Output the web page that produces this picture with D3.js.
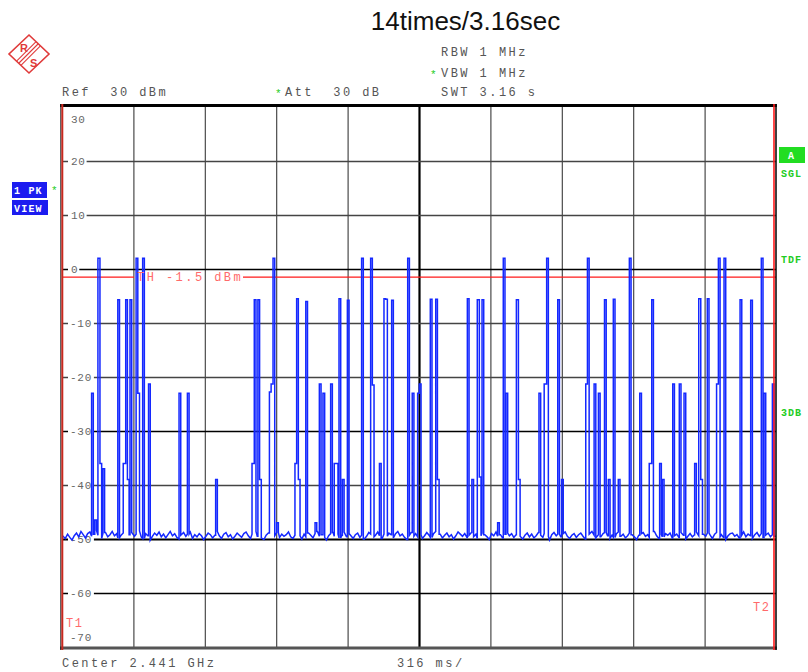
<!DOCTYPE html>
<html>
<head>
<meta charset="utf-8">
<script src="https://cdn.jsdelivr.net/npm/d3@7/dist/d3.min.js"></script>
<style>
  html, body { margin: 0; padding: 0; background: #fff; }
  svg { display: block; }
  .mono { font-family: "Liberation Mono", "DejaVu Sans Mono", monospace; white-space: pre; }
</style>
</head>
<body>
<svg id="chart" width="808" height="672"></svg>
<script>
// ---------------- DATA ----------------
const title = "14times/3.16sec";
const sweepMs = 3160;               // total sweep time (SWT 3.16 s)
const divisionMs = 316;             // 316 ms/div
const yDomain = [-70, 30];          // dBm
const yGridValues = [20, 10, 0, -10, -20, -30, -40, -50, -60];
const yLabelValues = [30, 20, 10, 0, -10, -20, -30, -40, -50, -60, -70];
const thresholdDbm = -1.5;

// Burst times (ms from sweep start) and peak levels (dBm)
const burstTimesMs = [
  131, 145, 159, 168, 181, 247, 271, 282, 289, 301,
  328, 335, 357, 383, 518, 555, 680, 841, 851, 867,
  874, 918, 924, 934, 950, 1031, 1036, 1046, 1079, 1120,
  1139, 1155, 1189, 1205, 1214, 1226, 1241, 1263, 1326, 1366,
  1372, 1405, 1425, 1432, 1459, 1530, 1550, 1574, 1580, 1630,
  1654, 1660, 1794, 1814, 1838, 1847, 1859, 1928, 1953, 1965,
  2011, 2020, 2111, 2134, 2145, 2194, 2211, 2318, 2322, 2355,
  2374, 2401, 2418, 2440, 2462, 2511, 2557, 2599, 2610, 2645,
  2657, 2703, 2732, 2753, 2800, 2818, 2827, 2856, 2897, 2905,
  2930, 3001, 3048, 3095, 3107, 3144
];
const burstLevelsDbm = [
  -23, -46.5, 2, -36, -37, -5.7, -36, -5.7, -39, -5.7,
  2, -23, 2, -21.3, -23, -23, -39, -36, -5.7, -5.7,
  -39, -22.8, -21.3, 2, -47, -36, -5.5, -39, -6, -47,
  -21.3, -23, -21.3, -36, -36, -5.5, -39, -5.8, 2, 2,
  -21.5, -36, -5.5, -5.6, -5.8, 2, -23, -23, -21.3, -5.6,
  -5.6, -39, -5.5, -39, -5.7, -38.5, -5.7, -47, 2, -23,
  -5.7, -39, -23, -21.3, 2, -5.7, -39, -21.3, 2, -21.3,
  -23, -5.7, -39, -5.6, -39, 2, -23, -36, -5.7, -36,
  -39, -21.3, -21.3, -23, -36, -5.5, -39, -5.5, -21.3, 2,
  2, -5.7, -5.8, 2, -23, -21.3
];

// Noise floor (dBm), 320 consecutive bins across the sweep
const floorLevelsDbm = [
  -49.3,-49.9,-49.1,-49.7,-50.2,-49.4,-48.9,-49.6,-48.6,-49.2,
  -49.8,-49.0,-48.7,-49.5,-49.1,-48.4,-49.3,-49.9,-49.0,-48.8,
  -49.6,-49.2,-48.6,-49.4,-49.0,-49.8,-49.3,-48.9,-49.7,-50.1,
  -49.2,-48.8,-49.5,-49.1,-48.5,-49.6,-49.9,-49.0,-49.4,-50.2,
  -49.5,-48.9,-49.3,-48.7,-49.6,-49.1,-49.8,-49.2,-48.6,-49.4,
  -49.0,-49.7,-50.0,-49.3,-48.8,-49.5,-49.1,-48.7,-49.9,-49.2,
  -49.6,-49.0,-49.4,-50.1,-49.5,-48.9,-49.2,-49.8,-49.3,-48.6,
  -49.4,-49.9,-49.1,-48.8,-49.6,-49.2,-50.0,-49.5,-48.9,-49.3,
  -49.7,-49.0,-48.7,-49.4,-49.9,-49.1,-48.6,-49.5,-49.2,-49.8,
  -50.1,-49.3,-48.9,-49.6,-49.0,-49.4,-48.8,-49.7,-49.1,-49.5,
  -49.2,-48.7,-49.6,-49.9,-49.3,-48.8,-49.4,-50.0,-49.1,-49.6,
  -48.9,-49.3,-49.8,-49.0,-48.6,-49.5,-49.2,-49.7,-50.2,-49.4,
  -49.0,-48.8,-49.5,-49.1,-49.8,-49.3,-48.7,-49.6,-49.0,-49.4,
  -49.9,-49.2,-48.9,-49.7,-49.3,-50.0,-49.5,-48.8,-49.1,-49.6,
  -49.3,-48.7,-49.4,-49.9,-49.1,-49.5,-48.9,-49.2,-49.8,-49.0,
  -48.6,-49.4,-49.1,-49.7,-50.1,-49.3,-48.8,-49.5,-49.0,-49.6,
  -49.2,-49.9,-49.4,-48.8,-49.3,-49.7,-49.0,-48.6,-49.5,-49.1,
  -49.8,-49.3,-48.9,-49.6,-49.2,-50.0,-49.4,-48.7,-49.1,-49.5,
  -49.0,-49.7,-49.3,-48.8,-49.6,-49.1,-49.9,-49.4,-48.9,-49.2,
  -49.6,-50.1,-49.0,-49.4,-48.7,-49.5,-49.2,-49.8,-49.1,-48.9,
  -49.4,-49.0,-49.7,-49.2,-48.6,-49.5,-50.0,-49.3,-48.9,-49.6,
  -49.1,-49.8,-49.4,-48.8,-49.3,-49.7,-49.0,-49.5,-50.2,-49.2,
  -48.8,-49.4,-49.1,-49.6,-49.0,-48.7,-49.5,-49.9,-49.3,-49.0,
  -49.7,-49.2,-48.9,-49.5,-50.0,-49.4,-49.1,-48.6,-49.3,-49.8,
  -49.2,-49.6,-49.0,-48.8,-49.4,-49.9,-49.3,-49.7,-49.0,-48.7,
  -49.5,-49.1,-49.8,-49.4,-48.9,-49.2,-49.6,-50.1,-49.3,-49.0,
  -48.8,-49.5,-49.2,-49.7,-49.1,-48.6,-49.4,-49.9,-49.2,-49.6,
  -49.0,-49.3,-48.9,-49.8,-49.4,-49.1,-49.7,-48.8,-49.3,-50.0,
  -49.5,-49.0,-49.6,-49.2,-48.7,-49.4,-49.8,-49.1,-49.5,-48.9,
  -49.3,-49.9,-49.1,-48.8,-49.6,-49.2,-49.7,-50.1,-49.4,-49.0,
  -48.9,-49.5,-49.2,-49.8,-49.3,-48.7,-49.6,-49.1,-49.4,-49.9,
  -49.2,-48.8,-49.5,-49.0,-49.7,-49.3,-48.9,-49.6,-49.2,-49.5
];

// ---------------- LAYOUT ----------------
const plot = { left: 62, right: 776, top: 107, bottom: 647 };
const svg = d3.select("#chart");

const x = d3.scaleLinear().domain([0, sweepMs]).range([plot.left, plot.right]);
const y = d3.scaleLinear().domain(yDomain).range([plot.bottom, plot.top]);

const headerFont = { size: "12px", spacing: "2.45px", fill: "#555" };
function monoText(g, tx, ty, str, fill, opts = {}) {
  return g.append("text")
    .attr("class", "mono")
    .attr("xml:space", "preserve")
    .attr("x", tx).attr("y", ty)
    .attr("font-size", opts.size || headerFont.size)
    .attr("letter-spacing", opts.spacing || headerFont.spacing)
    .attr("font-weight", opts.weight || "normal")
    .attr("fill", fill || headerFont.fill)
    .text(str);
}

// Title
svg.append("text")
  .attr("x", 465.5).attr("y", 30)
  .attr("text-anchor", "middle")
  .attr("font-family", "Liberation Sans, Arial, sans-serif")
  .attr("font-size", "26px")
  .attr("fill", "#111")
  .text(title);

// R&S logo
const logo = svg.append("g").attr("stroke", "#e03a3a").attr("fill", "none");
logo.append("path").attr("d", "M29,35 L49,54 L29,73 L9,54 Z").attr("stroke-width", 1.6);
[-2.2, 0, 2.2].forEach(o => {
  logo.append("line")
    .attr("x1", 38 + o).attr("y1", 44 + o)
    .attr("x2", 19 + o).attr("y2", 63 + o)
    .attr("stroke-width", 1.1);
});
svg.append("text").attr("x", 20).attr("y", 52).attr("font-family", "Liberation Sans, Arial, sans-serif")
  .attr("font-size", "11px").attr("font-weight", "bold").attr("fill", "#e03a3a").text("R");
svg.append("text").attr("x", 30).attr("y", 67).attr("font-family", "Liberation Sans, Arial, sans-serif")
  .attr("font-size", "11px").attr("font-weight", "bold").attr("fill", "#e03a3a").text("S");

// Header texts
const hdr = svg.append("g");
monoText(hdr, 441, 56, "RBW 1 MHz");
monoText(hdr, 441, 77, "VBW 1 MHz");
monoText(hdr, 441, 96, "SWT 3.16 s");
monoText(hdr, 62, 96, "Ref  30 dBm");
monoText(hdr, 285, 96, "Att  30 dB");
monoText(hdr, 430, 78, "*", "#22cc22", { size: "11px", spacing: "0px" });
monoText(hdr, 275, 97, "*", "#22cc22", { size: "11px", spacing: "0px" });

// Left trace-info boxes
const lb = svg.append("g");
lb.append("rect").attr("x", 12).attr("y", 182).attr("width", 35).attr("height", 16).attr("fill", "#1c1cf0");
lb.append("rect").attr("x", 12).attr("y", 200).attr("width", 36).attr("height", 15).attr("fill", "#1c1cf0");
monoText(lb, 14, 194, "1 PK", "#fff", { size: "10px", spacing: "1.2px", weight: "bold" });
monoText(lb, 14, 211.5, "VIEW", "#fff", { size: "10px", spacing: "1.2px", weight: "bold" });
monoText(lb, 51, 194, "*", "#22cc22", { size: "11px", spacing: "0px" });

// Right status labels
const rb = svg.append("g");
rb.append("rect").attr("x", 779).attr("y", 147).attr("width", 26).attr("height", 16).attr("fill", "#22dd22");
monoText(rb, 788, 159, "A", "#fff", { size: "10px", spacing: "0px", weight: "bold" });
monoText(rb, 781, 177, "SGL", "#22cc22", { size: "10px", spacing: "1px", weight: "bold" });
monoText(rb, 781, 263, "TDF", "#22cc22", { size: "10px", spacing: "1px", weight: "bold" });
monoText(rb, 781, 416, "3DB", "#22cc22", { size: "10px", spacing: "1px", weight: "bold" });

// Bottom texts
monoText(svg, 62, 667, "Center 2.441 GHz");
monoText(svg, 397, 667, "316 ms/");

// ---------------- GRID via axes ----------------
const xGridTicks = d3.range(1, sweepMs / divisionMs).map(i => i * divisionMs);
const xAxis = d3.axisBottom(x).tickValues(xGridTicks).tickSize(plot.bottom - plot.top).tickFormat("");
const gx = svg.append("g").attr("transform", `translate(0,${plot.top})`).call(xAxis);
gx.select(".domain").remove();
gx.selectAll(".tick line")
  .attr("stroke", d => d === sweepMs / 2 ? "#000" : "#3a3a3a")
  .attr("stroke-width", d => d === sweepMs / 2 ? 2.2 : 1.1);

const yAxis = d3.axisRight(y).tickValues(yGridValues).tickSize(plot.right - plot.left).tickFormat("");
const gy = svg.append("g").attr("transform", `translate(${plot.left},0)`).call(yAxis);
gy.select(".domain").remove();
gy.selectAll(".tick line")
  .attr("stroke", d => (d === 0 || d === -30 || d === -50 || d === -60) ? "#000" : "#444")
  .attr("stroke-width", d => d === -50 ? 2 : 1.6);

// Y labels (gridline broken behind them)
const yl = svg.append("g");
yLabelValues.forEach(v => {
  let ty = y(v);
  if (v === yDomain[1]) ty = y(v) + 12;
  if (v === yDomain[0]) ty = y(v) - 10;
  const str = v < 0 ? "-" + Math.abs(v) : String(v);
  const w = str.length * 7.3;
  if (v !== yDomain[1] && v !== yDomain[0]) {
    yl.append("rect").attr("x", 68).attr("y", ty - 3).attr("width", w + 4).attr("height", 6).attr("fill", "#fff");
  }
  monoText(yl, v < 0 ? 70 : 71, ty + 4, str, "#666", { size: "11px", spacing: "0.75px" });
});

// Threshold line
const thY = y(thresholdDbm);
svg.append("line").attr("x1", plot.left).attr("x2", 134).attr("y1", thY).attr("y2", thY)
  .attr("stroke", "#ff1a1a").attr("stroke-width", 1.3);
svg.append("line").attr("x1", 243).attr("x2", plot.right).attr("y1", thY).attr("y2", thY)
  .attr("stroke", "#ff1a1a").attr("stroke-width", 1.3);

// ---------------- TRACE ----------------
const binMs = sweepMs / floorLevelsDbm.length;
const floorAt = t => floorLevelsDbm[Math.max(0, Math.min(floorLevelsDbm.length - 1, Math.floor(t / binMs)))];
const bursts = burstTimesMs.map((t, i) => ({ t, L: burstLevelsDbm[i] })).sort((a, b) => a.t - b.t);
const burstMs = 7.5;   // duration of one burst sample
const pts = [];
let open = false, prevEnd = -1e9, prevL = null, bi = 0;
function closeBurst() {
  if (open) { pts.push([prevEnd, floorAt(prevEnd)]); open = false; }
}
function addBurst(b) {
  if (open && b.t - prevEnd < 4) {
    const ts = Math.max(b.t, prevEnd);
    pts.push([ts, prevL]);
    pts.push([ts, b.L]);
    prevEnd = ts + burstMs;
  } else {
    closeBurst();
    pts.push([b.t, floorAt(b.t)]);
    pts.push([b.t, b.L]);
    prevEnd = b.t + burstMs;
  }
  pts.push([prevEnd, b.L]);
  prevL = b.L; open = true;
}
floorLevelsDbm.forEach((f, i) => {
  const tf = i === 0 ? 0 : (i === floorLevelsDbm.length - 1 ? sweepMs : (i + 0.5) * binMs);
  while (bi < bursts.length && bursts[bi].t < tf) { addBurst(bursts[bi]); bi++; }
  if (open && tf - prevEnd < 3) return;
  closeBurst();
  if (tf < prevEnd + 1) return;
  pts.push([tf, f]);
});
while (bi < bursts.length) { addBurst(bursts[bi]); bi++; }
closeBurst();

svg.append("clipPath").attr("id", "clip").append("rect")
  .attr("x", plot.left).attr("y", plot.top).attr("width", plot.right - plot.left).attr("height", plot.bottom - plot.top);
svg.append("path")
  .datum(pts)
  .attr("clip-path", "url(#clip)")
  .attr("fill", "none")
  .attr("stroke", "#1428ff")
  .attr("stroke-width", 1.5)
  .attr("stroke-linejoin", "miter")
  .attr("d", d3.line().x(d => x(d[0])).y(d => y(d[1])));

// Threshold label
monoText(svg, 137, thY + 4, "TH -1.5 dBm", "#ff6a6a");

// T1 / T2 markers
monoText(svg, 66, 627, "T1", "#ff6a6a", { size: "12px", spacing: "1.5px" });
monoText(svg, 753, 611, "T2", "#ff6a6a", { size: "12px", spacing: "1.5px" });

// ---------------- FRAME ----------------
const fr = svg.append("g");
fr.append("line").attr("x1", 60).attr("x2", 777).attr("y1", 105.5).attr("y2", 105.5).attr("stroke", "#000").attr("stroke-width", 3);
fr.append("line").attr("x1", 60).attr("x2", 777).attr("y1", 648).attr("y2", 648).attr("stroke", "#555").attr("stroke-width", 3);
fr.append("line").attr("x1", 60.8).attr("x2", 60.8).attr("y1", 104).attr("y2", 650).attr("stroke", "#222").attr("stroke-width", 1);
fr.append("line").attr("x1", 62.3).attr("x2", 62.3).attr("y1", 104).attr("y2", 650).attr("stroke", "#c8281e").attr("stroke-width", 2);
fr.append("line").attr("x1", 774).attr("x2", 774).attr("y1", 104).attr("y2", 650).attr("stroke", "#ff1a1a").attr("stroke-width", 1.6);
fr.append("line").attr("x1", 776).attr("x2", 776).attr("y1", 104).attr("y2", 650).attr("stroke", "#111").attr("stroke-width", 1.6);
</script>
</body>
</html>
